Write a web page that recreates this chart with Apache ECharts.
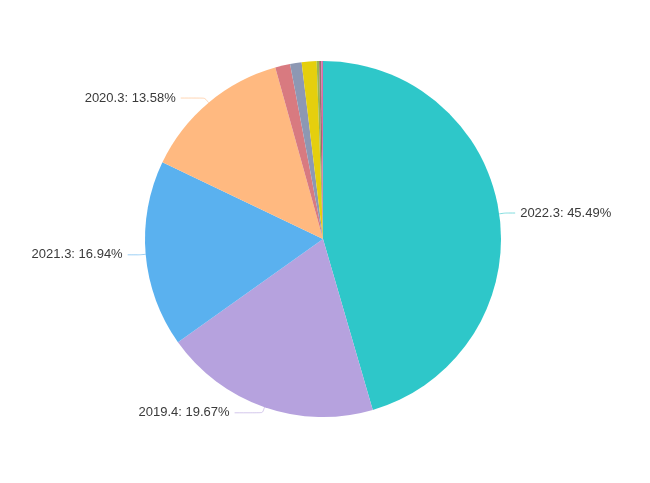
<!DOCTYPE html>
<html>
<head>
<meta charset="utf-8">
<script src="https://cdn.jsdelivr.net/npm/echarts@6/dist/echarts.min.js"></script>
<style>
  html, body { margin: 0; padding: 0; background: #fff; }
  #main { width: 650px; height: 483px; }
</style>
</head>
<body>
<div id="main"></div>
<script>
// 切片名称和数值（从图上读的百分比）
const names = ['2022.3', '2019.4', '2021.3', '2020.3', '2018.4', '2017.4', '2016.4', '2015.4', '2014.4', '2013.4']
const values = [45.49, 19.67, 16.94, 13.58, 1.36, 1.04, 1.35, 0.22, 0.2, 0.15]
const colors = ['#2ec7c9', '#b6a2de', '#5ab1ef', '#ffb980', '#d87a80', '#8d98b3', '#e5cf0d', '#97b552', '#95706d', '#dc69aa']
// 每个标签引导线第二段长度
const lineLen2 = [10, 28, 12, 24, 0, 0, 0, 0, 0, 0]

const chart = echarts.init(document.getElementById('main'))
const seriesData = names.map((name, i) => ({
  name: name,
  value: values[i],
  labelLine: { length2: lineLen2[i] }
}))

chart.setOption({
  color: colors,
  animation: false,
  series: [{
    type: 'pie',
    center: [323, 239],
    radius: 178,
    startAngle: 90,
    clockwise: true,
    minShowLabelAngle: 6,
    label: {
      show: true,
      formatter: '{b}: {d}%',
      color: '#3a3a3a',
      fontSize: 13,
      fontFamily: '"Liberation Sans", Arial, sans-serif'
    },
    labelLine: {
      length: 6,
      smooth: 0.2,
      lineStyle: { width: 1, opacity: 0.6 }
    },
    data: seriesData
  }]
})
</script>
</body>
</html>
